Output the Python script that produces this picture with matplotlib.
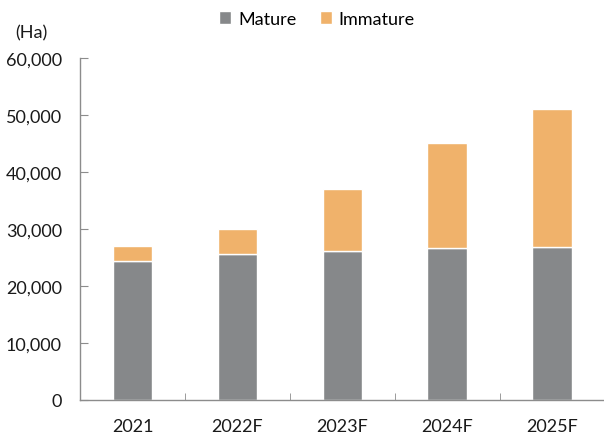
import numpy as np
import matplotlib.pyplot as plt
from matplotlib.ticker import FuncFormatter, FixedLocator

years = ['2021', '2022F', '2023F', '2024F', '2025F']
mature = [24300, 25600, 26100, 26600, 26900]
immature = [2700, 4400, 10900, 18400, 24100]

plt.rcParams['font.family'] = ['Lato', 'DejaVu Sans']

fig = plt.figure(figsize=(6.04, 4.39), dpi=100)
ax = fig.add_axes([0.1325, 0.0866, 0.869, 0.779])

x = np.arange(len(years))
w = 0.38
ax.bar(x, mature, w, color='#86888a', edgecolor='white', linewidth=1, label='Mature')
ax.bar(x, immature, w, bottom=mature, color='#f0b26b', edgecolor='white', linewidth=1, label='Immature')

ax.set_xlim(-0.5, len(years) - 0.5)
ax.set_ylim(0, 60000)
ax.set_yticks(np.arange(0, 60001, 10000))
ax.yaxis.set_major_formatter(FuncFormatter(lambda v, p: f'{int(v):,}'))
ax.set_xticks(x)
ax.set_xticklabels(years)
ax.xaxis.set_minor_locator(FixedLocator(x[:-1] + 0.5))

for s in ['top', 'right']:
    ax.spines[s].set_visible(False)
for s in ['left', 'bottom']:
    ax.spines[s].set_color('#8c8c8c')
    ax.spines[s].set_linewidth(1)

ax.tick_params(axis='y', direction='in', length=6, color='#8c8c8c', labelsize=13, pad=13, labelcolor='#1a1a1a')
ax.tick_params(axis='x', which='major', length=0, labelsize=13, pad=13, labelcolor='#1a1a1a')
ax.tick_params(axis='x', which='minor', direction='in', length=5, color='#8c8c8c')

fig.text(0.026, 0.924, '(Ha)', fontsize=13, color='#1a1a1a', va='center')

fig.legend(loc='upper center', bbox_to_anchor=(0.525, 1.01), ncol=2, frameon=False,
           fontsize=13, handlelength=0.65, handleheight=0.65, columnspacing=1.3, handletextpad=0.4)

fig.savefig('out.png', dpi=100)
